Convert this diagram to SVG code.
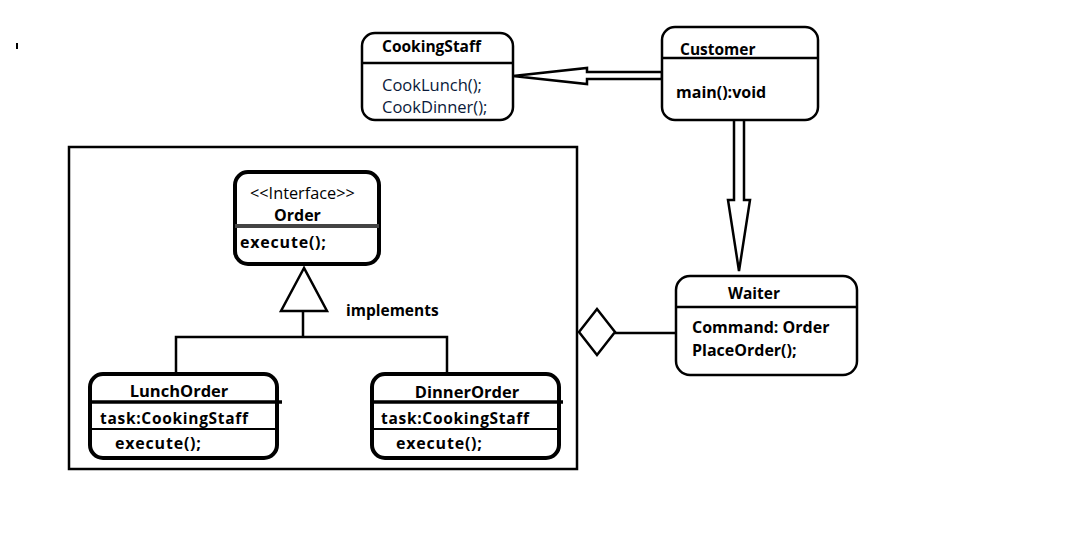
<svg xmlns="http://www.w3.org/2000/svg" width="1092" height="552" viewBox="0 0 1092 552">
<style>
.box{fill:#fff;stroke:#000;stroke-width:2.5}
.tbox{fill:#fff;stroke:#000;stroke-width:4}
.ln{stroke:#000;stroke-width:2.5;fill:none}
.t{font-family:"Open Sans",Lato,sans-serif;font-size:15.5px;fill:#000}
.r{font-size:16.3px}
.m{font-size:16px}
.l{font-size:16.5px}
.x{font-size:16px;letter-spacing:0.8px}
.k{font-size:15.5px;letter-spacing:0.7px}
.b{font-weight:bold}
.blue{fill:#0a1a3a}
</style>
<rect width="1092" height="552" fill="#fff"/>
<rect x="16" y="43" width="2" height="6" fill="#000"/>
<rect x="69" y="147" width="508" height="322" fill="none" stroke="#000" stroke-width="2.5"/>
<g id="connectors">
<polygon points="662,72 587,72 587,68 513,76 587,84 587,79 662,79" fill="#fff" stroke="#000" stroke-width="2.5"/>
<polygon points="734,117 734,200 728,200 739,271 750,200 744,200 744,117" fill="#fff" stroke="#000" stroke-width="2.5"/>
<polygon points="304,268 281,311 327,311" fill="#fff" stroke="#000" stroke-width="2.5"/>
<path class="ln" d="M303,311 V337 M176,373 V337 H447 V373"/>
<line class="ln" x1="615" y1="333" x2="676" y2="333"/>
<polygon points="579,332 597,309 615,332 597,355" fill="#fff" stroke="#000" stroke-width="2.5"/>
<text class="t b" x="346" y="316">implements</text>
</g>
<g id="cookingstaff">
<rect class="box" x="362" y="33" width="151" height="87" rx="13"/>
<line class="ln" x1="362" y1="63" x2="513" y2="63"/>
<text class="t b" x="382" y="52">CookingStaff</text>
<text class="t l blue" x="382" y="91">CookLunch();</text>
<text class="t l blue" x="382" y="113">CookDinner();</text>
</g>
<g id="customer">
<rect class="box" x="662" y="27" width="156" height="93" rx="13"/>
<line class="ln" x1="662" y1="58" x2="818" y2="58"/>
<text class="t b" x="680" y="55">Customer</text>
<text class="t b m" x="676" y="98">main():void</text>
</g>
<g id="waiter">
<rect class="box" x="676" y="276" width="181" height="99" rx="14"/>
<line class="ln" x1="676" y1="307" x2="857" y2="307"/>
<text class="t b" x="754" y="299" text-anchor="middle">Waiter</text>
<text class="t b m" x="692" y="333">Command: Order</text>
<text class="t b m" x="692" y="356">PlaceOrder();</text>
</g>
<g id="order">
<rect class="tbox" x="235" y="172" width="144" height="92" rx="13"/>
<line x1="235" y1="226" x2="379" y2="226" stroke="#444" stroke-width="4"/>
<text class="t r" x="250" y="199">&lt;&lt;Interface&gt;&gt;</text>
<text class="t b m" x="274" y="221">Order</text>
<text class="t b x" x="240" y="248">execute();</text>
</g>
<g id="lunchorder">
<rect class="tbox" x="90" y="374" width="187" height="84" rx="13"/>
<line x1="88" y1="402" x2="282" y2="402" stroke="#000" stroke-width="3.5"/>
<line x1="88" y1="429" x2="278" y2="429" stroke="#000" stroke-width="2"/>
<text class="t b l" x="179" y="397" text-anchor="middle">LunchOrder</text>
<text class="t b k" x="100" y="424">task:CookingStaff</text>
<text class="t b x" x="115" y="449">execute();</text>
</g>
<g id="dinnerorder">
<rect class="tbox" x="372" y="374" width="187" height="84" rx="13"/>
<line x1="370" y1="402" x2="563" y2="402" stroke="#000" stroke-width="3.5"/>
<line x1="370" y1="429" x2="559" y2="429" stroke="#000" stroke-width="2"/>
<text class="t b l" x="467" y="398" text-anchor="middle">DinnerOrder</text>
<text class="t b k" x="381" y="424">task:CookingStaff</text>
<text class="t b x" x="396" y="449">execute();</text>
</g>
</svg>
